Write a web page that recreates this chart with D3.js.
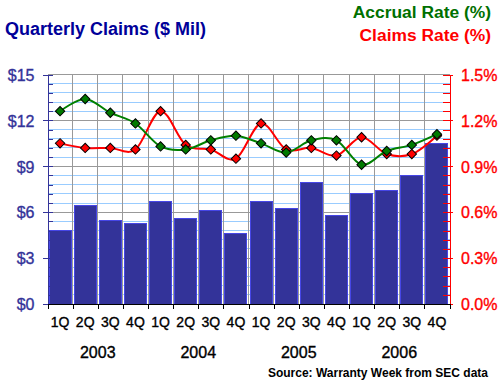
<!DOCTYPE html>
<html><head><meta charset="utf-8">
<script src="https://cdn.jsdelivr.net/npm/d3@7/dist/d3.min.js"></script>
<style>
body{margin:0;background:#fff}
svg{display:block}
text{font-family:"Liberation Sans",Arial,Helvetica,sans-serif}
</style>
</head><body>
<svg id="c" width="500" height="383"></svg>
<script>
// ---- data ----
const quarters = ["1Q","2Q","3Q","4Q","1Q","2Q","3Q","4Q","1Q","2Q","3Q","4Q","1Q","2Q","3Q","4Q"];
const years = ["2003","2004","2005","2006"];
const claims = [4.79,6.41,5.49,5.27,6.67,5.56,6.08,4.58,6.67,6.27,7.97,5.77,7.25,7.39,8.37,10.46];
const accrualRate = [1.26,1.34,1.25,1.18,1.03,1.01,1.07,1.10,1.05,0.99,1.07,1.07,0.91,1.00,1.04,1.11];
const claimsRate = [1.05,1.02,1.02,1.01,1.26,1.04,1.01,0.95,1.18,1.01,1.02,0.97,1.09,0.98,0.98,1.10];
const leftTicks = [0,3,6,9,12,15];
const leftMinor = [0.6,1.2,1.8,2.4,3.6,4.2,4.8,5.4,6.6,7.2,7.8,8.4,9.6,10.2,10.8,11.4,12.6,13.2,13.8,14.4];
const rightTicks = [0,0.3,0.6,0.9,1.2,1.5];
const rightMinor = [0.06,0.12,0.18,0.24,0.36,0.42,0.48,0.54,0.66,0.72,0.78,0.84,0.96,1.02,1.08,1.14,1.26,1.32,1.38,1.44];

const keys = quarters.map((q,i)=>years[Math.floor(i/4)]+" "+q);

const svg = d3.select("#c");
const L = 47.5, R = 449.5, T = 74.5, B = 304;

const x = d3.scaleBand().domain(keys).range([L,R]).paddingInner(0.12).paddingOuter(0.06);
const xb = d3.scaleLinear().domain([0,keys.length]).range([L,R]);
const y = d3.scaleLinear().domain([0,15]).range([B,T]);
const y2 = d3.scaleLinear().domain([0,1.5]).range([B,T]);

// ---- grid ----
const g = svg.append("g").attr("shape-rendering","crispEdges");
g.selectAll("line.minor").data(leftMinor).join("line")
  .attr("x1",L).attr("x2",R).attr("y1",d=>y(d)).attr("y2",d=>y(d))
  .attr("stroke","#99ccff").attr("stroke-width",1);
g.selectAll("line.major").data(leftTicks.slice(1)).join("line")
  .attr("x1",L).attr("x2",R).attr("y1",d=>y(d)).attr("y2",d=>y(d))
  .attr("stroke","#999999").attr("stroke-width",1);
g.selectAll("line.v").data(d3.range(1,keys.length)).join("line")
  .attr("x1",d=>xb(d)).attr("x2",d=>xb(d)).attr("y1",T).attr("y2",B)
  .attr("stroke","#999999").attr("stroke-width",1);

// ---- bars ----
svg.append("g").selectAll("rect").data(claims).join("rect")
  .attr("x",(d,i)=>x(keys[i]))
  .attr("width",x.bandwidth())
  .attr("y",d=>y(d))
  .attr("height",d=>B-y(d))
  .attr("fill","#333399")
  .attr("stroke","#4646e6").attr("stroke-width",1)
  .attr("shape-rendering","crispEdges");

// ---- axes ----
function styleAxis(sel,color){
  sel.select(".domain").attr("stroke",color);
  sel.selectAll(".tick line").attr("stroke",color);
  sel.selectAll(".tick text").attr("fill",color).attr("stroke",color).attr("stroke-width",0.35);
  sel.attr("shape-rendering","crispEdges");
}
// left
const la = svg.append("g").attr("transform",`translate(${L},0)`)
  .call(d3.axisLeft(y).tickValues(leftTicks).tickSize(5).tickPadding(8).tickFormat(d=>"$"+d).tickSizeOuter(0));
styleAxis(la,"#333399");
la.selectAll(".tick text").attr("font-size","16px").attr("dy","0.36em").attr("font-family","'Liberation Sans',Arial,sans-serif");
const li = svg.append("g").attr("transform",`translate(${L},0)`)
  .call(d3.axisRight(y).tickValues(leftTicks.concat(leftMinor)).tickSize(5).tickFormat("").tickSizeOuter(0));
styleAxis(li,"#333399");
li.select(".domain").remove();

// right
const ra = svg.append("g").attr("transform",`translate(${R+0.5},0)`)
  .call(d3.axisRight(y2).tickValues(rightTicks).tickSize(3).tickPadding(8).tickFormat(d=>d.toFixed(1)+"%").tickSizeOuter(0));
styleAxis(ra,"#ff0000");
ra.selectAll(".tick text").attr("font-size","16px").attr("dy","0.36em").attr("font-family","'Liberation Sans',Arial,sans-serif");
ra.select(".domain").attr("stroke-width",1.5);
const ri = svg.append("g").attr("transform",`translate(${R+0.5},0)`)
  .call(d3.axisLeft(y2).tickValues(rightTicks.concat(rightMinor)).tickSize(7).tickFormat("").tickSizeOuter(0));
styleAxis(ri,"#ff0000");
ri.select(".domain").remove();

// bottom
const ba = svg.append("g").attr("transform",`translate(0,${B})`)
  .call(d3.axisBottom(xb).tickValues(d3.range(0,keys.length+1)).tickSize(5).tickFormat("").tickSizeOuter(0));
styleAxis(ba,"#000000");

svg.append("g").selectAll("text").data(quarters).join("text")
  .attr("x",(d,i)=>x(keys[i])+x.bandwidth()/2)
  .attr("y",327)
  .attr("text-anchor","middle")
  .attr("font-size","14px")
  .attr("fill","#000").attr("stroke","#000").attr("stroke-width",0.35)
  .text(d=>d);

svg.append("g").selectAll("text").data(years).join("text")
  .attr("x",(d,i)=>(xb(i*4)+xb(i*4+4))/2)
  .attr("y",357.5)
  .attr("text-anchor","middle")
  .attr("font-size","16px")
  .attr("fill","#000").attr("stroke","#000").attr("stroke-width",0.35)
  .text(d=>d);

// ---- lines ----
const cx = i=>x(keys[i])+x.bandwidth()/2;
function series(vals,color,mark){
  const line = d3.line().x((d,i)=>cx(i)).y(d=>y2(d)).curve(d3.curveCardinal.tension(0));
  svg.append("path").datum(vals).attr("d",line)
    .attr("fill","none").attr("stroke",color).attr("stroke-width",2);
  svg.append("g").selectAll("path").data(vals).join("path")
    .attr("d",d3.symbol().type(d3.symbolSquare).size(44))
    .attr("transform",(d,i)=>`translate(${cx(i)},${y2(d)}) rotate(45)`)
    .attr("fill",mark).attr("stroke","#000").attr("stroke-width",1);
}
series(claimsRate,"#ff0000","#ff0000");
series(accrualRate,"#008000","#007a00");

// ---- titles ----
svg.append("text").attr("x",5).attr("y",35).attr("font-size","18px").attr("font-weight","bold")
  .attr("fill","#000099").text("Quarterly Claims ($ Mil)");
svg.append("text").attr("x",491).attr("y",17.5).attr("text-anchor","end").attr("font-size","17.4px").attr("font-weight","bold")
  .attr("fill","#007000").text("Accrual Rate (%)");
svg.append("text").attr("x",491).attr("y",40.5).attr("text-anchor","end").attr("font-size","17.4px").attr("font-weight","bold")
  .attr("fill","#ff0000").text("Claims Rate (%)");
svg.append("text").attr("x",488).attr("y",377).attr("text-anchor","end").attr("font-size","12px").attr("font-weight","bold")
  .attr("fill","#000").text("Source: Warranty Week from SEC data");
</script>
</body></html>
